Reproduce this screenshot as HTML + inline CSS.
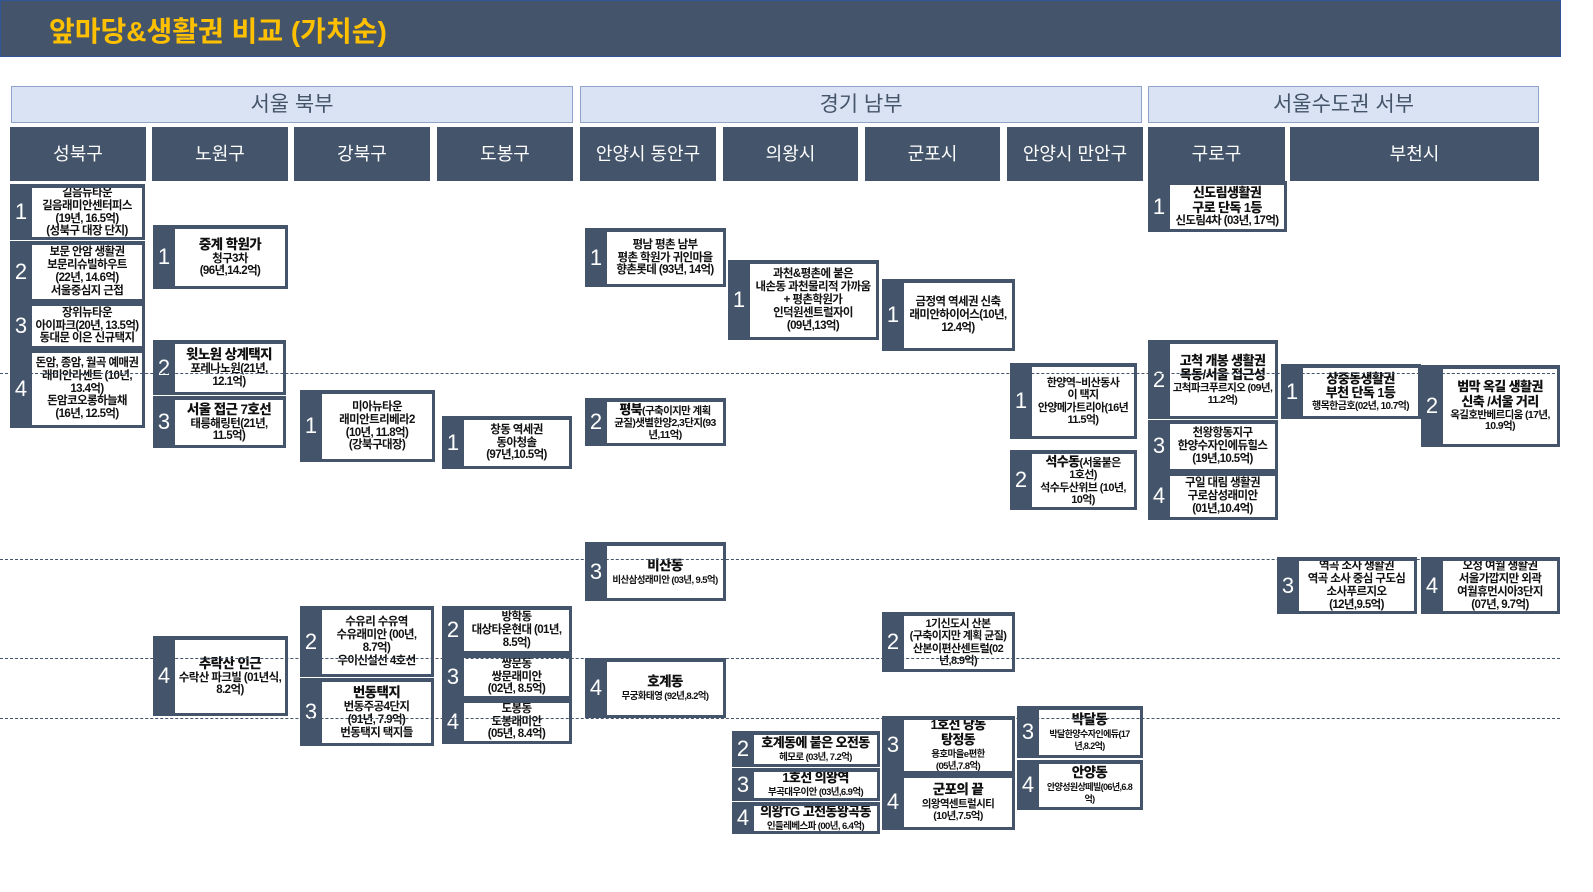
<!DOCTYPE html>
<html><head><meta charset="utf-8"><style>
body{margin:0;width:1593px;height:892px;background:#fff;position:relative;overflow:hidden;font-family:"Liberation Sans","Noto Sans CJK KR",sans-serif}
.t{position:absolute;left:0;top:0;width:1559px;height:55px;background:#44546a;border:1px solid #2f5597}
.t span{position:absolute;left:48px;top:9px;color:#ffc000;font-size:28px;font-weight:bold}
.r{position:absolute;top:86px;height:35px;background:#dae3f3;border:1.5px solid #8fa4c8;color:#44546a;font-size:21px;text-align:center;line-height:35px}
.d{position:absolute;top:127px;height:54px;background:#44546a;color:#fff;font-size:18px;text-align:center;line-height:54px}
.c{position:absolute;background:#44546a}
.n{position:absolute;left:0;top:0;bottom:0;width:22px;color:#fff;font-size:22px;display:flex;align-items:center;justify-content:center}
.b{position:absolute;left:22px;top:4px;right:3px;bottom:3px;background:#fff;display:flex;align-items:center;justify-content:center;text-align:center;font-size:11.5px;line-height:1.12;overflow:hidden;font-weight:bold;color:#111;letter-spacing:-0.6px}
.b b{font-size:13.5px}
.l{position:absolute;left:0;width:1560px;border-top:1.5px dashed #44546a;z-index:5}
</style></head><body>
<div class="t"><span>앞마당&amp;생활권 비교 (가치순)</span></div>
<div class="r" style="left:11px;width:560px">서울 북부</div>
<div class="r" style="left:580px;width:560px">경기 남부</div>
<div class="r" style="left:1148px;width:389px">서울수도권 서부</div>
<div class="d" style="left:10px;width:136px">성북구</div>
<div class="d" style="left:152px;width:136px">노원구</div>
<div class="d" style="left:294px;width:136px">강북구</div>
<div class="d" style="left:437px;width:136px">도봉구</div>
<div class="d" style="left:580px;width:136px">안양시 동안구</div>
<div class="d" style="left:723px;width:135px">의왕시</div>
<div class="d" style="left:865px;width:135px">군포시</div>
<div class="d" style="left:1007px;width:136px">안양시 만안구</div>
<div class="d" style="left:1148px;width:137px">구로구</div>
<div class="d" style="left:1290px;width:249px">부천시</div>

<div class="l" style="top:373px"></div>
<div class="l" style="top:559px"></div>
<div class="l" style="top:658px"></div>
<div class="l" style="top:718px"></div>

<div class="c" style="left:10px;top:184px;width:135px;height:56px"><span class="n">1</span><div class="b">길음뉴타운<br>길음래미안센터피스<br>(19년, 16.5억)<br>(성북구 대장 단지)</div></div>
<div class="c" style="left:10px;top:241px;width:135px;height:61px"><span class="n">2</span><div class="b">보문 안암 생활권<br>보문리슈빌하우트<br>(22년, 14.6억)<br>서울중심지 근접</div></div>
<div class="c" style="left:10px;top:302px;width:135px;height:47px"><span class="n">3</span><div class="b">장위뉴타운<br>아이파크(20년, 13.5억)<br>동대문 이은 신규택지</div></div>
<div class="c" style="left:10px;top:349px;width:135px;height:79px"><span class="n">4</span><div class="b">돈암, 종암, 월곡 예매권<br>래미안라센트 (10년,<br>13.4억)<br>돈암코오롱하늘채<br>(16년, 12.5억)</div></div>

<div class="c" style="left:153px;top:225px;width:135px;height:64px"><span class="n">1</span><div class="b"><div><b>중계 학원가</b><br>청구3차<br>(96년,14.2억)</div></div></div>
<div class="c" style="left:153px;top:340px;width:133px;height:55px"><span class="n">2</span><div class="b"><div><b>윗노원 상계택지</b><br>포레나노원(21년,<br>12.1억)</div></div></div>
<div class="c" style="left:153px;top:396px;width:133px;height:52px"><span class="n">3</span><div class="b"><div><b>서울 접근 7호선</b><br>태릉해링턴(21년,<br>11.5억)</div></div></div>
<div class="c" style="left:153px;top:636px;width:135px;height:80px"><span class="n">4</span><div class="b"><div><b>추락산 인근</b><br>수락산 파크빌 (01년식,<br>8.2억)</div></div></div>

<div class="c" style="left:300px;top:390px;width:135px;height:72px"><span class="n">1</span><div class="b">미아뉴타운<br>래미안트리베라2<br>(10년, 11.8억)<br>(강북구대장)</div></div>
<div class="c" style="left:300px;top:606px;width:134px;height:71px"><span class="n">2</span><div class="b">수유리 수유역<br>수유래미안 (00년,<br>8.7억)<br>우이신설선 4호선</div></div>
<div class="c" style="left:300px;top:678px;width:134px;height:68px"><span class="n">3</span><div class="b"><div><b>번동택지</b><br>번동주공4단지<br>(91년, 7.9억)<br>번동택지 택지들</div></div></div>

<div class="c" style="left:442px;top:416px;width:130px;height:53px"><span class="n">1</span><div class="b">창동 역세권<br>동아청솔<br>(97년,10.5억)</div></div>
<div class="c" style="left:442px;top:606px;width:130px;height:48px"><span class="n">2</span><div class="b">방학동<br>대상타운현대 (01년,<br>8.5억)</div></div>
<div class="c" style="left:442px;top:654px;width:130px;height:45px"><span class="n">3</span><div class="b">쌍문동<br>쌍문래미안<br>(02년, 8.5억)</div></div>
<div class="c" style="left:442px;top:699px;width:130px;height:45px"><span class="n">4</span><div class="b">도봉동<br>도봉래미안<br>(05년, 8.4억)</div></div>

<div class="c" style="left:585px;top:228px;width:141px;height:59px"><span class="n">1</span><div class="b">평남 평촌 남부<br>평촌 학원가 귀인마을<br>향촌롯데 (93년, 14억)</div></div>
<div class="c" style="left:585px;top:398px;width:141px;height:48px"><span class="n">2</span><div class="b" style="font-size:10.5px"><div><b style="font-size:13px">평북</b>(구축이지만 계획<br>균질)샛별한양2,3단지(93<br>년,11억)</div></div></div>
<div class="c" style="left:585px;top:542px;width:141px;height:59px"><span class="n">3</span><div class="b"><div><b>비산동</b><br><span style="font-size:9.5px">비산삼성래미안 (03년, 9.5억)</span></div></div></div>
<div class="c" style="left:585px;top:658px;width:141px;height:60px"><span class="n">4</span><div class="b"><div><b>호계동</b><br><span style="font-size:9.5px">무궁화태영 (92년,8.2억)</span></div></div></div>

<div class="c" style="left:728px;top:260px;width:151px;height:80px"><span class="n">1</span><div class="b">과천&amp;평촌에 붙은<br>내손동 과천물리적 가까움<br>+ 평촌학원가<br>인덕원센트럴자이<br>(09년,13억)</div></div>
<div class="c" style="left:732px;top:731px;width:148px;height:36px"><span class="n">2</span><div class="b"><div><b style="font-size:13px">호계동에 붙은 오전동</b><br><span style="font-size:9.5px">헤모로 (03년, 7.2억)</span></div></div></div>
<div class="c" style="left:732px;top:768px;width:148px;height:33px"><span class="n">3</span><div class="b"><div><b style="font-size:13px">1호선 의왕역</b><br><span style="font-size:9.5px">부곡대우이안 (03년,6.9억)</span></div></div></div>
<div class="c" style="left:732px;top:802px;width:148px;height:32px"><span class="n">4</span><div class="b"><div><b style="font-size:13px">의왕TG 고천동왕곡동</b><br><span style="font-size:9.5px">인들레베스파 (00년, 6.4억)</span></div></div></div>

<div class="c" style="left:882px;top:279px;width:133px;height:72px"><span class="n">1</span><div class="b">금정역 역세권 신축<br>래미안하이어스(10년,<br>12.4억)</div></div>
<div class="c" style="left:882px;top:612px;width:133px;height:60px"><span class="n">2</span><div class="b" style="font-size:11px">1기신도시 산본<br>(구축이지만 계획 균질)<br>산본이편산센트럴(02<br>년,8.9억)</div></div>
<div class="c" style="left:882px;top:716px;width:133px;height:58px"><span class="n">3</span><div class="b"><div><b style="font-size:13px">1호선 당동<br>탕정동</b><br><span style="font-size:9.5px">용호마을e편한<br>(05년,7.8억)</span></div></div></div>
<div class="c" style="left:882px;top:774px;width:133px;height:56px"><span class="n">4</span><div class="b"><div><b>군포의 끝</b><br><span style="font-size:10.5px">의왕역센트럴시티<br>(10년,7.5억)</span></div></div></div>

<div class="c" style="left:1010px;top:363px;width:127px;height:76px"><span class="n">1</span><div class="b" style="font-size:11px">한양역~비산동사<br>이 택지<br>안양메가트리아(16년<br>11.5억)</div></div>
<div class="c" style="left:1010px;top:450px;width:127px;height:60px"><span class="n">2</span><div class="b" style="font-size:11px"><div><b style="font-size:13px">석수동</b>(서울붙은<br>1호선)<br>석수두산위브 (10년,<br>10억)</div></div></div>
<div class="c" style="left:1017px;top:706px;width:126px;height:52px"><span class="n">3</span><div class="b"><div><b>박달동</b><br><span style="font-size:9px">박달한양수자인에듀(17<br>년,8.2억)</span></div></div></div>
<div class="c" style="left:1017px;top:760px;width:126px;height:50px"><span class="n">4</span><div class="b"><div><b>안양동</b><br><span style="font-size:9px">안양성원상떼빌(06년,6.8<br>억)</span></div></div></div>

<div class="c" style="left:1148px;top:181px;width:139px;height:51px"><span class="n">1</span><div class="b"><div><b style="font-size:13px">신도림생활권<br>구로 단독 1등</b><br>신도림4차 (03년, 17억)</div></div></div>
<div class="c" style="left:1148px;top:340px;width:130px;height:79px"><span class="n">2</span><div class="b" style="font-size:10.5px"><div><b style="font-size:13px">고척 개봉 생활권<br>목동/서울 접근성</b><br>고척파크푸르지오 (09년,<br>11.2억)</div></div></div>
<div class="c" style="left:1148px;top:420px;width:130px;height:52px"><span class="n">3</span><div class="b">천왕항동지구<br>한양수자인에듀힐스<br>(19년,10.5억)</div></div>
<div class="c" style="left:1148px;top:472px;width:130px;height:48px"><span class="n">4</span><div class="b">구일 대림 생활권<br>구로삼성래미안<br>(01년,10.4억)</div></div>

<div class="c" style="left:1281px;top:364px;width:140px;height:55px"><span class="n">1</span><div class="b" style="font-size:10px"><div><b style="font-size:13px">상중동생활권<br>부천 단독 1등</b><br>행목한금호(02년, 10.7억)</div></div></div>
<div class="c" style="left:1421px;top:365px;width:139px;height:82px"><span class="n">2</span><div class="b" style="font-size:10.5px"><div><b style="font-size:13px">범막 옥길 생활권<br>신축 /서울 거리</b><br>옥길호반베르디움 (17년,<br>10.9억)</div></div></div>
<div class="c" style="left:1277px;top:557px;width:140px;height:57px"><span class="n">3</span><div class="b">역곡 소사 생활권<br>역곡 소사 중심 구도심<br>소사푸르지오<br>(12년,9.5억)</div></div>
<div class="c" style="left:1421px;top:557px;width:139px;height:57px"><span class="n">4</span><div class="b">오정 여월 생활권<br>서울가깝지만 외곽<br>여월휴먼시아3단지<br>(07년, 9.7억)</div></div>
</body></html>
